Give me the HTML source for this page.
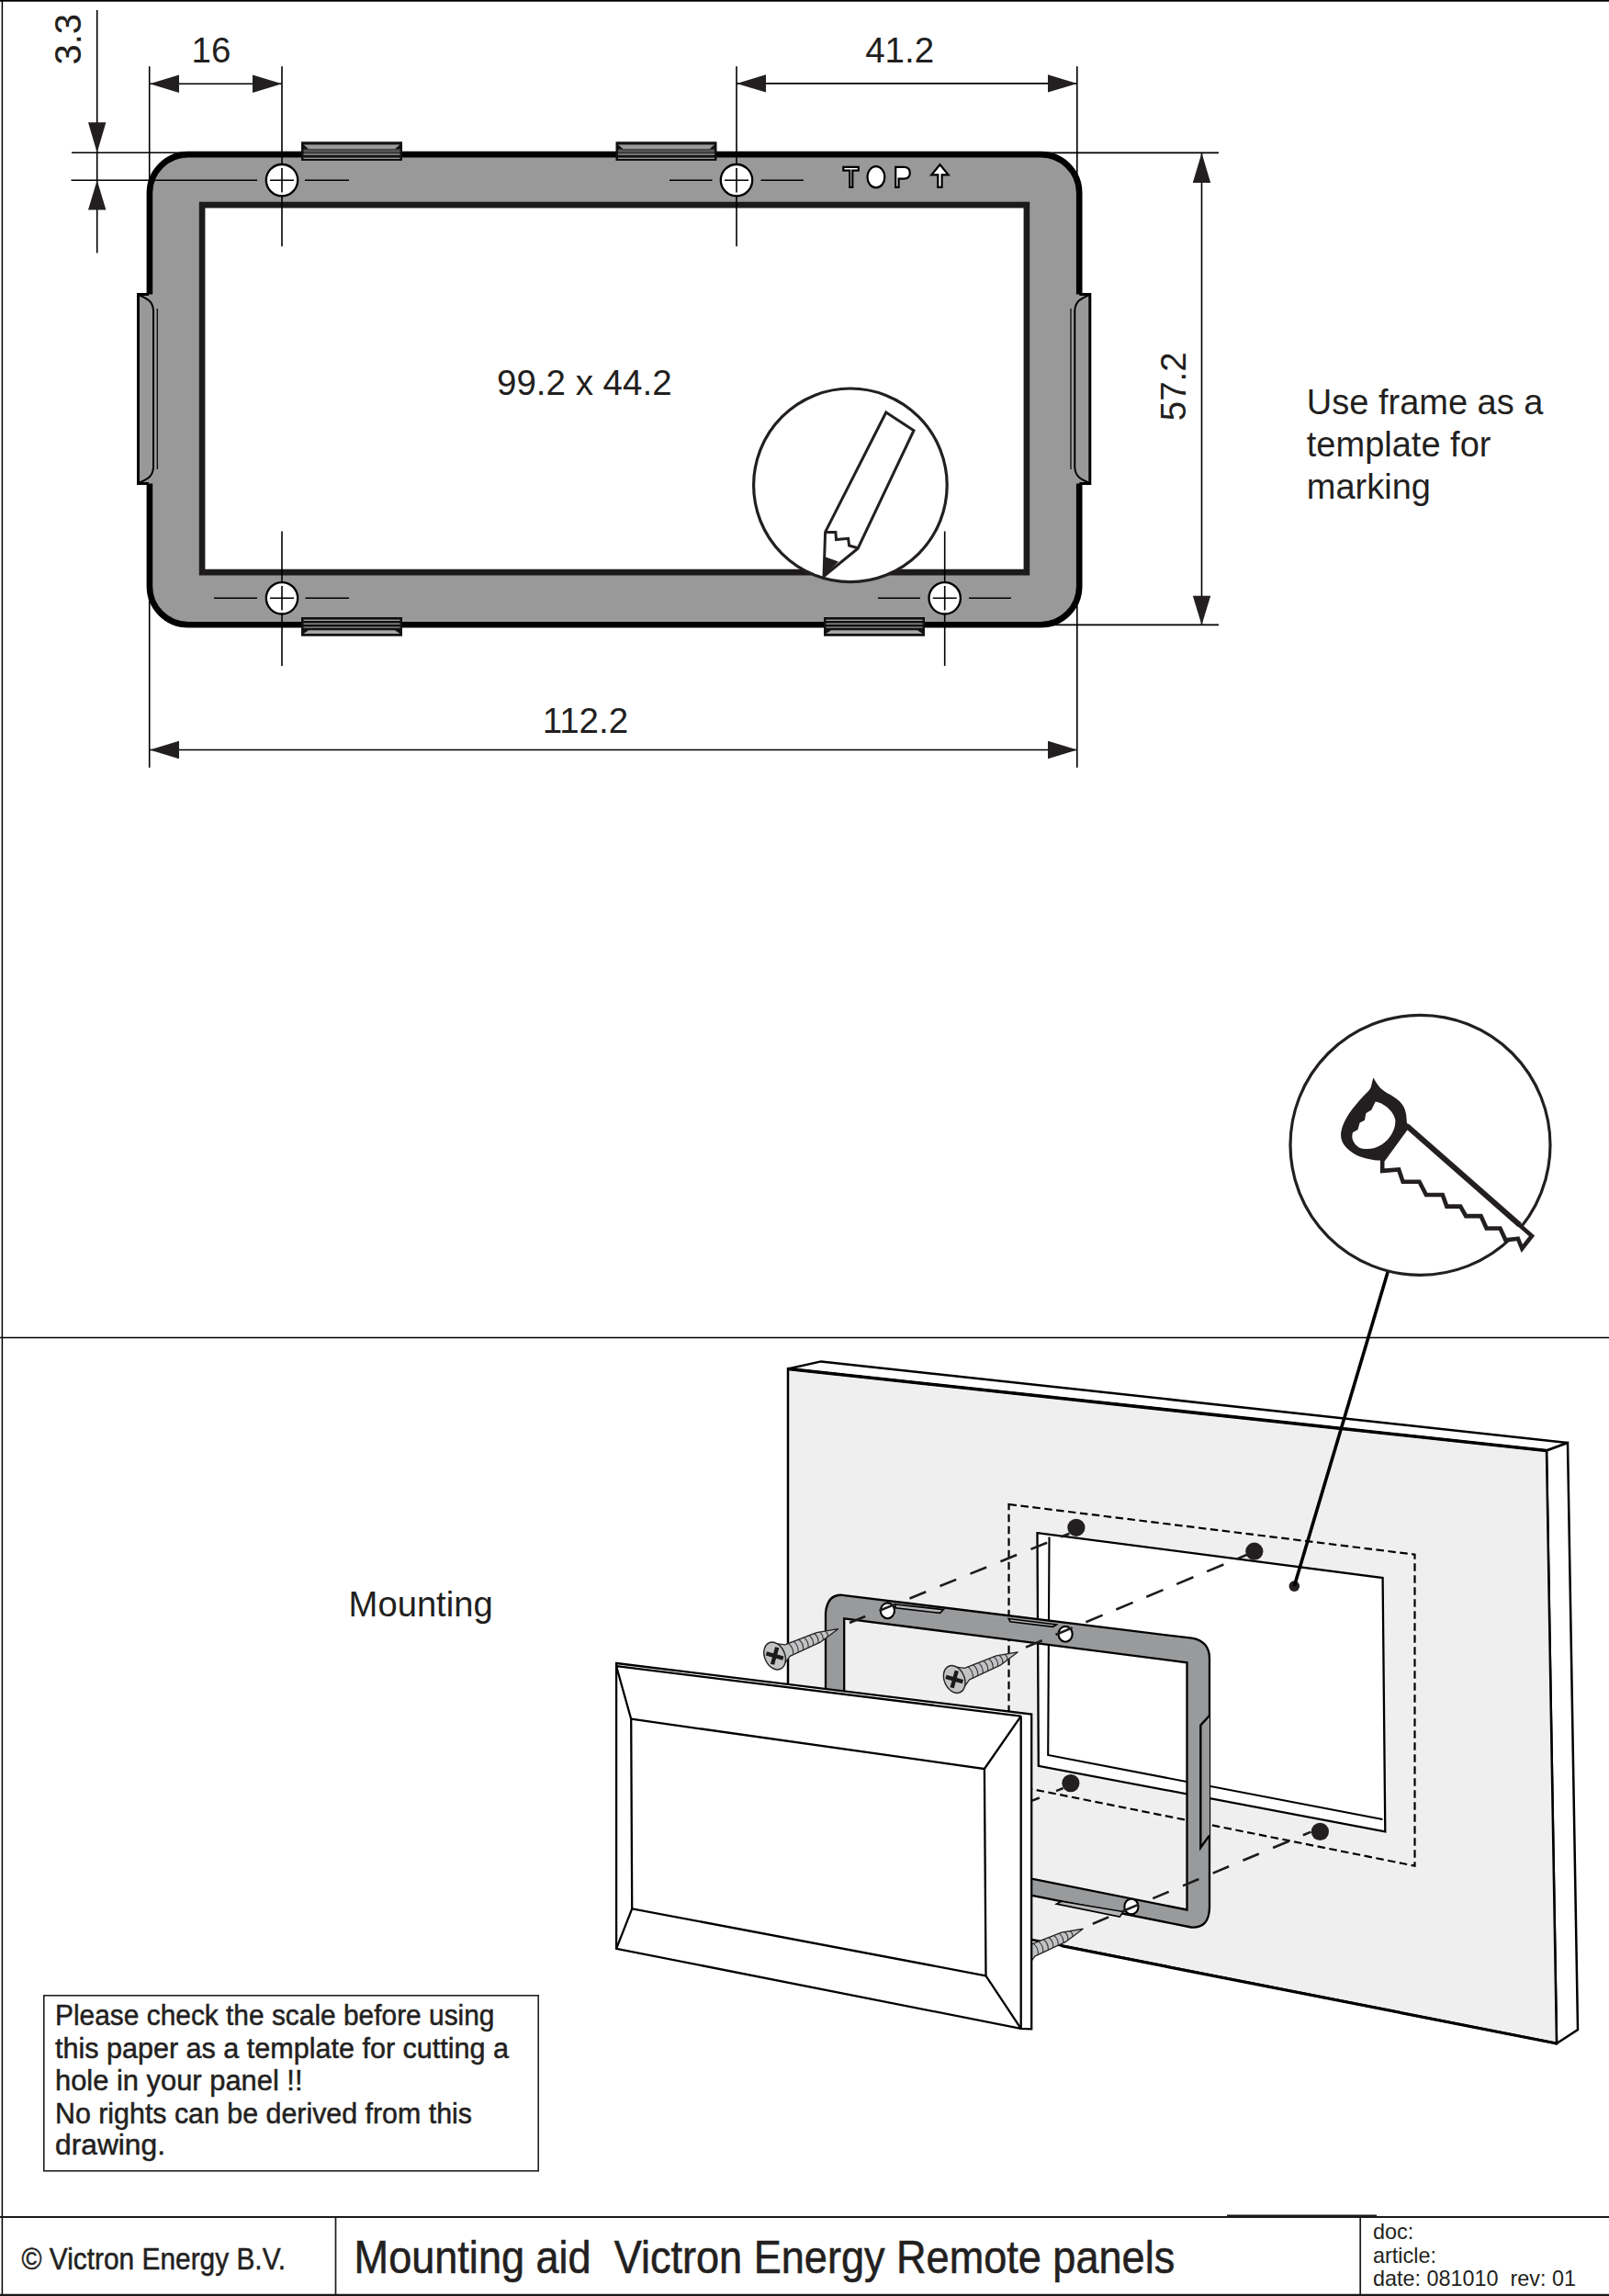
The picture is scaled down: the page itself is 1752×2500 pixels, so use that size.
<!DOCTYPE html>
<html><head><meta charset="utf-8"><style>
html,body{margin:0;padding:0;background:#fff;}
body{width:1752px;height:2500px;overflow:hidden;position:relative;}
svg{position:absolute;left:0;top:0;}
text{font-family:"Liberation Sans",sans-serif;fill:#231f20;}
</style></head><body>
<svg width="1752" height="2500" viewBox="0 0 1752 2500">
<!-- page border -->
<g stroke="#000" fill="none">
<line x1="0" y1="0.8" x2="1752" y2="0.8" stroke-width="1.8"/>
<line x1="2.4" y1="0" x2="2.4" y2="2500" stroke-width="1.5"/>
<line x1="0" y1="1456.4" x2="1752" y2="1456.4" stroke-width="1.5"/>
</g>
<!--TOP--><!-- frame body -->
<path d="M205,168.1 H1133 A42,42 0 0 1 1175.2,210 V638 A42,42 0 0 1 1133,680.2 H205 A42,42 0 0 1 162.9,638 V210 A42,42 0 0 1 205,168.1 Z" fill="#999" stroke="#000" stroke-width="6.6"/>
<path d="M220.1,223.1 H1117.9 V623.1 H220.1 Z" fill="#fff" stroke="#1c1a1b" stroke-width="6.6"/>
<!-- side clips -->
<g id="lclip">
<rect x="150.5" y="320.5" width="21.5" height="206" fill="#999"/>
<path d="M150.5,319 V528 M149,320.5 H162 M149,526.5 H162" stroke="#000" stroke-width="3" fill="none"/>
<path d="M152,321.5 C160,325 166.5,328 167,338 V509 C166.5,519 160,522 152,525.5" stroke="#000" stroke-width="2" fill="none"/>
<line x1="171.3" y1="336" x2="171.3" y2="511" stroke="#000" stroke-width="1.2"/>
</g>
<use href="#lclip" transform="translate(1337.3,0) scale(-1,1)"/>
<!-- top/bottom clips -->
<defs>
<g id="tclip">
<rect x="328" y="154.3" width="110" height="20.7" fill="#111"/>
<path d="M330.5,157.6 H435.5 L430,162.2 H336 Z" fill="#9a9a9a"/>
<rect x="330.5" y="162.4" width="105" height="4" fill="#525252"/>
<rect x="330.5" y="167.4" width="105" height="1.3" fill="#a8a8a8"/>
<rect x="330.5" y="171.7" width="105" height="1.2" fill="#a8a8a8"/>
</g>
<g id="bclip">
<rect x="328" y="672" width="110" height="20.7" fill="#111"/>
<rect x="330.5" y="674.7" width="105" height="1.2" fill="#b4b4b4"/>
<rect x="330.5" y="678.6" width="105" height="1.2" fill="#a8a8a8"/>
<rect x="330.5" y="682.5" width="105" height="1.2" fill="#9a9a9a"/>
<path d="M336,686.2 H430 L435.5,690 H330.5 Z" fill="#a8a8a8"/>
</g>
</defs>
<use href="#tclip"/>
<use href="#tclip" transform="translate(342.5,0)"/>
<use href="#bclip"/>
<use href="#bclip" transform="translate(569,0)"/>
<!-- TOP text engraved -->
<g fill="#fff" stroke="#000" stroke-width="2.2" stroke-linejoin="miter">
<path d="M918.3,181.8 H934.8 V185.7 H928.3 V203.8 H925.3 V185.7 H918.3 Z"/>
<ellipse cx="953.9" cy="192.8" rx="9.4" ry="11.6"/>
<path d="M975.2,181.8 H984 C989.5,181.8 990.8,185 990.8,188.3 C990.8,192 989.5,194.6 984,194.6 H978.6 V203.8 H975.2 Z"/>
<path d="M1023.5,179.3 L1032.6,190.3 H1025.6 V203.8 H1021.3 V190.3 H1014.3 Z"/>
</g>
<!-- dimension / center lines -->
<g stroke="#000" stroke-width="1.6" fill="none">
<!-- 3.3 -->
<line x1="105.7" y1="11" x2="105.7" y2="275.5"/>
<line x1="78" y1="166.3" x2="205" y2="166.3"/>
<line x1="77.5" y1="196.2" x2="280" y2="196.2"/>
<!-- ext lines verticals -->
<line x1="162.7" y1="72.3" x2="162.7" y2="320"/><line x1="162.7" y1="527" x2="162.7" y2="835.7"/>
<line x1="1172.8" y1="72.3" x2="1172.8" y2="320"/><line x1="1172.8" y1="527" x2="1172.8" y2="835.7"/>
<line x1="307" y1="72.3" x2="307" y2="268.2"/>
<line x1="802" y1="72.3" x2="802" y2="268.2"/>
<line x1="307" y1="578.5" x2="307" y2="725"/>
<line x1="1028.7" y1="578.5" x2="1028.7" y2="725"/>
<!-- dashes -->
<line x1="332" y1="196.2" x2="380" y2="196.2"/>
<line x1="729" y1="196.2" x2="775.5" y2="196.2"/>
<line x1="828.5" y1="196.2" x2="875" y2="196.2"/>
<line x1="233" y1="651.3" x2="280" y2="651.3"/>
<line x1="332.5" y1="651.3" x2="380" y2="651.3"/>
<line x1="956" y1="651.3" x2="1002" y2="651.3"/>
<line x1="1055" y1="651.3" x2="1101" y2="651.3"/>
<!-- dim lines -->
<line x1="163" y1="91.3" x2="307" y2="91.3"/>
<line x1="802" y1="90.9" x2="1173" y2="90.9"/>
<line x1="163" y1="816.5" x2="1173" y2="816.5"/>
<line x1="1308.5" y1="166.4" x2="1308.5" y2="680.4"/>
<line x1="1137" y1="166.4" x2="1327" y2="166.4"/>
<line x1="1126.6" y1="680.4" x2="1327" y2="680.4"/>
</g>
<g fill="#231f20">
<path d="M105.7,166.3 L96,133.3 H115.4 Z"/>
<path d="M105.7,196.2 L96,228.4 H115.4 Z"/>
<path d="M163,91.3 L195,81.6 V101 Z"/>
<path d="M307,91.3 L275,81.6 V101 Z"/>
<path d="M802,90.9 L834,81.2 V100.6 Z"/>
<path d="M1173,90.9 L1141,81.2 V100.6 Z"/>
<path d="M163,816.5 L195,806.8 V826.2 Z"/>
<path d="M1173,816.5 L1141,806.8 V826.2 Z"/>
<path d="M1308.5,166.4 L1298.8,198.9 H1318.2 Z"/>
<path d="M1308.5,680.4 L1298.8,648.7 H1318.2 Z"/>
</g>
<!-- screw holes -->
<g fill="#fff" stroke="#000" stroke-width="2.3">
<circle cx="307" cy="196.2" r="17.2"/>
<circle cx="802" cy="196.2" r="17.2"/>
<circle cx="307" cy="651.3" r="17.2"/>
<circle cx="1028.7" cy="651.3" r="17.2"/>
</g>
<g stroke="#000" stroke-width="1.6">
<path d="M294,196.2 H320 M307,183 V209.5"/>
<path d="M789,196.2 H815 M802,183 V209.5"/>
<path d="M294,651.3 H320 M307,638 V664.5"/>
<path d="M1015.7,651.3 H1041.7 M1028.7,638 V664.5"/>
</g>
<!-- pencil circle -->
<circle cx="925.9" cy="528.3" r="105.3" fill="#fff" stroke="#231f20" stroke-width="3.2"/>
<path d="M964.8,449 L995,468.7 L934.1,597.2 L897,627.5 L898.6,579.4 Z" fill="#fff" stroke="#231f20" stroke-width="3"/>
<path d="M898.6,579.4 L909.9,579.6 L910.5,587.5 L923.6,586.3 L924.6,594 L934.1,596.8" fill="none" stroke="#231f20" stroke-width="3"/>
<path d="M897,627.5 L897.5,606 L913,611.5 Z" fill="#231f20"/>
<!-- texts -->
<g font-size="38.5">
<text x="0" y="0" transform="translate(87.5,42.7) rotate(-90)" text-anchor="middle" font-size="40">3.3</text>
<text x="230" y="68" text-anchor="middle">16</text>
<text x="979.6" y="67.8" text-anchor="middle">41.2</text>
<text x="636.3" y="430" text-anchor="middle">99.2 x 44.2</text>
<text x="637.4" y="797.8" text-anchor="middle">112.2</text>
<text x="0" y="0" transform="translate(1290.8,420.8) rotate(-90)" text-anchor="middle">57.2</text>
<g font-size="38"><text x="1422.8" y="451.3">Use frame as a</text>
<text x="1422.8" y="497">template for</text>
<text x="1422.8" y="542.6">marking</text></g>
</g>
<!--/TOP-->
<!--ISO--><!-- wall -->
<g stroke="#000" stroke-width="2.5" stroke-linejoin="miter">
<path d="M858,1490.5 L894,1482.4 L1707,1571 L1684,1579.5 Z" fill="#fff"/>
<path d="M1684,1579.5 L1707,1571 L1718,2210 L1695,2225 Z" fill="#fff"/>
<path d="M858,1490.5 L1684,1579.5 L1695,2225 L858,2059.5 Z" fill="#efefef"/>
<path d="M858,1490.5 L1684,1579.5" stroke-width="3.6" fill="none"/>
<path d="M1156,2118.8 L1695,2225" stroke-width="3.2" fill="none"/>
</g>
<!-- dashed rect -->
<path d="M1098.5,1638 L1540.5,1692.6 L1540.5,2031.7 L1098.5,1943 Z" fill="none" stroke="#000" stroke-width="2.2" stroke-dasharray="8.5 4.5"/>
<!-- hole -->
<path d="M1129.5,1669.2 L1505.6,1718 L1508.3,1994.4 L1130.8,1922.8 Z" fill="#fff" stroke="#000" stroke-width="2.3"/>
<path d="M1142.5,1673.5 L1141.2,1911 L1505.5,1981" fill="none" stroke="#000" stroke-width="2.1"/>
<!-- dots -->
<g fill="#231f20">
<circle cx="1171.9" cy="1663.3" r="9.6"/>
<circle cx="1365.8" cy="1689.2" r="9.6"/>
<circle cx="1165.9" cy="1941.6" r="9.6"/>
<circle cx="1437.4" cy="1994.4" r="9.6"/>
<circle cx="1409.3" cy="1727.1" r="5.8"/>
</g>
<!-- leader line -->
<line x1="1512.3" y1="1381" x2="1409.3" y2="1727.1" stroke="#000" stroke-width="3.6"/>
<!-- iso frame -->
<path fill-rule="evenodd" fill="#999a9c" stroke="#000" stroke-width="2.3" d="M917,1736.8 L1297.7,1783.7 Q1317,1787 1317,1806 L1317,2078 Q1316,2100 1297,2098.5 L899,2018.9 L899,1756 Q901,1736 917,1736.8 Z M919.2,1762.3 L1292.5,1810.3 L1292.5,2079.5 L919.2,2004.8 Z"/>
<path d="M1317,1868 L1307.3,1878.5 L1307.3,2011.7 L1317,1998.4" fill="#999a9c" stroke="#000" stroke-width="2.4"/>
<g fill="#b4b5b7" stroke="#000" stroke-width="1.6">
<path d="M975.1,1747 L1027.3,1752.6 L1023.6,1756.4 L975.1,1750.8 Z"/>
<path d="M1098.2,1762.5 L1150.4,1768.9 L1146.6,1771.3 L1100,1765.7 Z"/>
<path d="M1150.3,2073.1 L1155.9,2070.3 L1223,2081.5 L1219.3,2087.1 Z"/>
</g>
<g fill="#fff" stroke="#000" stroke-width="2.1">
<ellipse cx="966.4" cy="1753.8" rx="7.6" ry="8.4"/>
<ellipse cx="1160.1" cy="1779.3" rx="7.6" ry="8.4"/>
<ellipse cx="1231.9" cy="2076" rx="7.6" ry="8.4"/>
</g>
<!-- dashed axis lines -->
<g stroke="#1c1c1c" stroke-width="2.6" fill="none">
<line x1="1164.5" y1="1669.8" x2="925" y2="1767" stroke-dasharray="19.1 16.5" stroke-dashoffset="9.3"/>
<line x1="1358" y1="1692.8" x2="1117" y2="1793.6" stroke-dasharray="19.7 16" stroke-dashoffset="7.9"/>
<line x1="1157.7" y1="1947" x2="1123" y2="1961" stroke-dasharray="8.3 19.6 8.5 100"/>
<line x1="1427.5" y1="1994.6" x2="1179" y2="2099.3" stroke-dasharray="18.9 16.6" stroke-dashoffset="9.5"/>
</g>
<!-- screws -->
<defs>
<g id="screw">
<path d="M2,-14.5 L15,-6.8 L52,-5.6 L75,0 L52,5.6 L15,6.8 L2,14.5 Z" fill="#c2c3c5" stroke="#222" stroke-width="1.3" stroke-linejoin="round"/>
<g fill="none" stroke="#333" stroke-width="1.1">
<path d="M19,-6.7 q3.5,6.7 0,13.4"/><path d="M25,-6.6 q3.5,6.6 0,13.2"/><path d="M31,-6.4 q3.5,6.4 0,12.8"/><path d="M37,-6.2 q3.5,6.2 0,12.4"/><path d="M43,-6 q3.5,6 0,12"/><path d="M49,-5.8 q3.5,5.8 0,11.6"/><path d="M55,-5 q3,5 0,10"/><path d="M61,-3.6 q2.5,3.6 0,7.2"/>
</g>
<ellipse cx="0" cy="0" rx="11" ry="15.5" fill="#c2c3c5" stroke="#222" stroke-width="1.4"/>
<path d="M-7.5,-6 L7.5,6 M-6,7.5 L6,-7.5" stroke="#1a1a1a" stroke-width="4.4"/>
</g>
</defs>
<use href="#screw" transform="translate(843.6,1803) rotate(-23)"/>
<use href="#screw" transform="translate(1039.2,1828.5) rotate(-23.2)"/>
<use href="#screw" transform="translate(1110.3,2129.8) rotate(-23.2)"/>
<!-- cover panel -->
<g stroke="#000" stroke-width="2.3" fill="#fff" stroke-linejoin="miter">
<path d="M671.1,1811 L1123.2,1866.5 L1123.2,2209.3 L1111.7,2208.8 L671.1,2121.8 Z"/>
<path d="M1111.7,1868.6 L1111.7,2208.8" fill="none"/>
<path d="M671.1,1814.2 L1111.7,1868.6" fill="none"/>
<path d="M687.2,1871.7 L1071.9,1926 L1073.5,2151.3 L688.2,2078.3 Z" fill="none"/>
<path d="M671.1,1814.2 L687.2,1871.7 M1111.7,1868.6 L1071.9,1926 M1111.7,2208.8 L1073.5,2151.3 M671.1,2121.8 L688.2,2078.3" fill="none"/>
</g>
<!-- saw circle -->
<circle cx="1546.5" cy="1246.8" r="141.5" fill="#fff" stroke="#231f20" stroke-width="3.2"/>
<path d="M1495.5,1173.4 C1493,1180 1494,1184 1490,1188 C1478,1200 1466,1214 1462,1226 C1457,1240 1462,1248 1474,1256 C1484,1262 1498,1264 1506,1263.5 L1532.5,1230 L1531.3,1215 C1530,1205 1526,1199 1514,1192 C1504,1187 1500,1182 1495.5,1173.4 Z M1497.7,1199.5 C1506,1201 1516,1208 1519,1218 C1521,1228 1514,1240 1505,1246 C1496,1252 1486,1252 1479.8,1249.5 C1473,1245 1471,1238 1473.1,1233 L1478.5,1230 L1480.6,1222.6 L1486,1219.7 L1487.3,1212.2 L1493.3,1208.5 Z" fill="#231f20" fill-rule="evenodd"/>
<path d="M1532.5,1226.5 L1668,1345.7 L1657.3,1359.5 L1652.9,1348.7 L1639.4,1350.2 L1633.5,1337.5 L1618.6,1337.5 L1612.6,1324.1 L1596.2,1324.1 L1590.2,1313.6 L1575.3,1313.6 L1570.8,1301 L1552.9,1301 L1545.5,1286.8 L1527.6,1286.8 L1523.1,1273.4 L1505.2,1274.9 L1505.2,1264 Z" fill="#fff" stroke="#231f20" stroke-width="4.6" stroke-linejoin="miter"/>
<line x1="1532" y1="1226" x2="1655" y2="1334" stroke="#231f20" stroke-width="6"/>
<!-- texts -->
<text x="379.6" y="1759.7" font-size="38.2">Mounting</text>
<!-- note box -->
<rect x="47.8" y="2172.8" width="538.4" height="191" fill="none" stroke="#231f20" stroke-width="1.6"/>
<g font-size="31" stroke="#231f20" stroke-width="0.5">
<text x="60" y="2205.4" textLength="478.5" lengthAdjust="spacingAndGlyphs">Please check the scale before using</text>
<text x="60" y="2240.9" textLength="494" lengthAdjust="spacingAndGlyphs">this paper as a template for cutting a</text>
<text x="60" y="2276.3" textLength="269.5" lengthAdjust="spacingAndGlyphs">hole in your panel !!</text>
<text x="60" y="2311.7" textLength="454" lengthAdjust="spacingAndGlyphs">No rights can be derived from this</text>
<text x="60" y="2346.2" textLength="120" lengthAdjust="spacingAndGlyphs">drawing.</text>
</g>
<!--/ISO-->
<!--TITLE--><g stroke="#1a1a1a" fill="none">
<line x1="0" y1="2414" x2="1752" y2="2414" stroke-width="1.9"/>
<line x1="1336" y1="2412.3" x2="1499" y2="2412.3" stroke-width="1.6"/>
<line x1="0" y1="2499" x2="1752" y2="2499" stroke-width="2.4"/>
<line x1="365.5" y1="2414" x2="365.5" y2="2499" stroke-width="1.7"/>
<line x1="1481.2" y1="2414" x2="1481.2" y2="2499" stroke-width="1.7"/>
</g>
<g transform="translate(23.5,0) scale(0.905,1)"><text x="0" y="2470.9" font-size="33" stroke="#231f20" stroke-width="0.5" style="white-space:pre">© Victron Energy B.V.</text></g>
<g transform="translate(385.6,0) scale(0.9016,1)"><text x="0" y="2475.5" font-size="50" stroke="#231f20" stroke-width="0.6" style="white-space:pre">Mounting aid  Victron Energy Remote panels</text></g>
<g font-size="23.4">
<text x="1495" y="2437.9">doc:</text>
<text x="1495" y="2464">article:</text>
<text x="1495" y="2489.3" style="white-space:pre">date: 081010  rev: 01</text>
</g>
<!--/TITLE-->
</svg>
</body></html>
